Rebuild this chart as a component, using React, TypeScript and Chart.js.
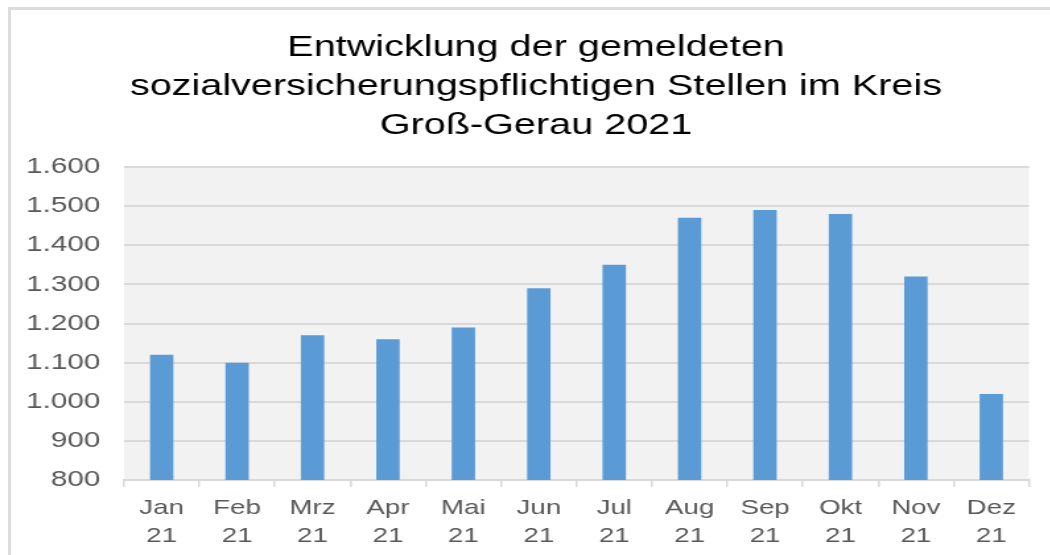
import React, { useEffect, useRef } from "react";
import { Chart, registerables } from "chart.js";

Chart.register(...registerables);

const months = ["Jan", "Feb", "Mrz", "Apr", "Mai", "Jun", "Jul", "Aug", "Sep", "Okt", "Nov", "Dez"];
const yearLabel = "21";
const values = [1120, 1100, 1170, 1160, 1190, 1290, 1350, 1470, 1490, 1480, 1320, 1020];
const titleLines = [
  "Entwicklung der gemeldeten",
  "sozialversicherungspflichtigen Stellen im Kreis",
  "Groß-Gerau 2021",
];
const yMin = 800;
const yMax = 1600;
const yStep = 100;

const STRETCH = 1.32;
const W = 795;
const H = 555;
const FONT = "'Liberation Sans', Arial, sans-serif";

function fmt(v: number): string {
  return String(v).replace(/\B(?=(\d{3})+(?!\d))/g, ".");
}

export default function App() {
  const ref = useRef<HTMLCanvasElement | null>(null);

  useEffect(() => {
    if (!ref.current) return;
    const bgPlugin = {
      id: "plotBg",
      beforeDraw(chart: any) {
        const { ctx, chartArea } = chart;
        ctx.save();
        ctx.fillStyle = "#f2f2f2";
        ctx.fillRect(chartArea.left, chartArea.top, chartArea.right - chartArea.left, chartArea.bottom - chartArea.top);
        ctx.restore();
      },
    };
    const titlePlugin = {
      id: "customTitle",
      afterDraw(chart: any) {
        const { ctx } = chart;
        ctx.save();
        ctx.fillStyle = "#000000";
        ctx.font = `30px ${FONT}`;
        ctx.textAlign = "center";
        ctx.textBaseline = "alphabetic";
        const cx = 536 / STRETCH;
        titleLines.forEach((t, i) => ctx.fillText(t, cx, 56 + i * 39));
        ctx.restore();
      },
    };
    const chart = new Chart(ref.current, {
      type: "bar",
      data: {
        labels: months.map((m) => [m, yearLabel]),
        datasets: [
          {
            data: values,
            backgroundColor: "#5b9bd5",
            borderWidth: 0,
            categoryPercentage: 1,
            barPercentage: 0.31,
          },
        ],
      },
      options: {
        responsive: false,
        animation: false,
        devicePixelRatio: 1,
        layout: { padding: { left: 0, right: W - 1029 / STRETCH, top: 167, bottom: 0 } },
        plugins: { legend: { display: false }, title: { display: false }, tooltip: { enabled: false } },
        scales: {
          x: {
            offset: true,
            grid: {
              offset: true,
              drawOnChartArea: false,
              drawTicks: true,
              tickLength: 7,
              color: "#d9d9d9",
              lineWidth: 1.5,
            },
            border: { display: true, color: "#d9d9d9", width: 2 },
            ticks: {
              color: "#595959",
              font: { family: FONT, size: 21, lineHeight: 1.3 },
              padding: 8,
              maxRotation: 0,
              autoSkip: false,
            },
            afterFit(scale: any) {
              scale.height = 75;
            },
          },
          y: {
            min: yMin,
            max: yMax,
            grid: { color: "#d9d9d9", lineWidth: 2, drawTicks: false },
            border: { display: false },
            ticks: {
              stepSize: yStep,
              color: "#595959",
              font: { family: FONT, size: 22.5 },
              padding: 18,
              callback: (v: any) => fmt(Number(v)),
            },
            afterFit(scale: any) {
              scale.width = 124 / STRETCH;
            },
          },
        },
      },
      plugins: [bgPlugin, titlePlugin],
    });
    return () => chart.destroy();
  }, []);

  return (
    <div style={{ position: "fixed", left: 0, top: 0, width: 1050, height: 555, background: "#fff", overflow: "hidden" }}>
      <div
        style={{
          position: "absolute",
          left: 8,
          top: 7,
          width: 1042,
          height: 548,
          borderTop: "3px solid #dcdcdc",
          borderLeft: "3px solid #dcdcdc",
          boxSizing: "border-box",
        }}
      />
      <div
        style={{
          position: "absolute",
          left: 0,
          top: 0,
          width: W,
          height: H,
          transform: `scaleX(${STRETCH})`,
          transformOrigin: "0 0",
        }}
      >
        <canvas ref={ref} width={W} height={H} />
      </div>
    </div>
  );
}
